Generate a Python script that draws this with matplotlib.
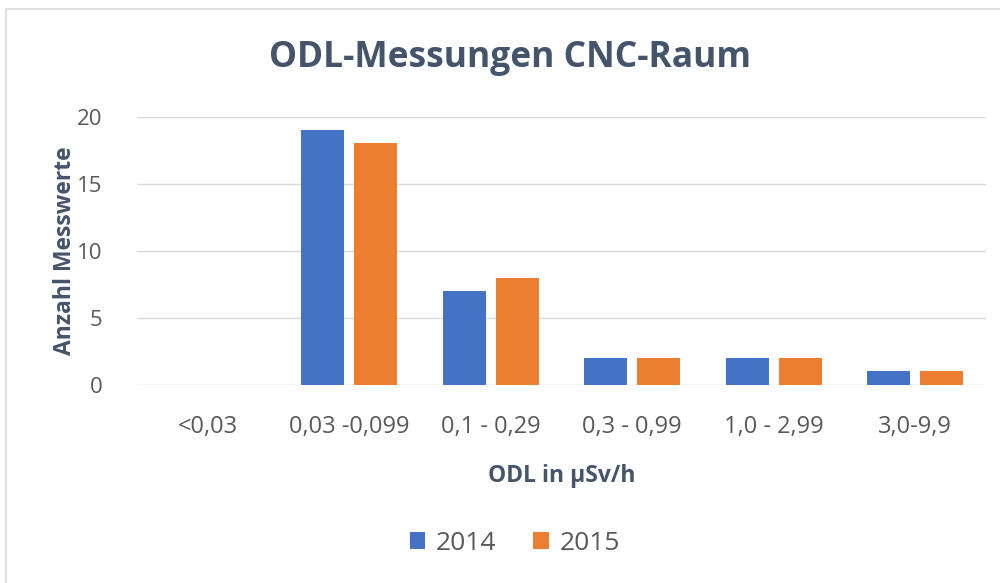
import matplotlib
matplotlib.use("Agg")
import matplotlib.pyplot as plt
import numpy as np
from matplotlib.patches import Rectangle

categories = ["<0,03", "0,03 -0,099", "0,1 - 0,29", "0,3 - 0,99", "1,0 - 2,99", "3,0-9,9"]
series_names = ["2014", "2015"]
values_2014 = [0, 19, 7, 2, 2, 1]
values_2015 = [0, 18, 8, 2, 2, 1]
yticks = [0, 5, 10, 15, 20]

plt.rcParams['font.family'] = ['Open Sans', 'DejaVu Sans']

fig = plt.figure(figsize=(10, 5.83), dpi=100)
fig.patch.set_facecolor("white")
# outer chart frame
fig.patches.append(Rectangle((0.006, -0.01), 1.0, 0.995, transform=fig.transFigure,
                             fill=False, edgecolor="#d9d9d9", linewidth=1.2))

ax = fig.add_axes([0.137, 0.34, 0.849, 0.46])
x = np.arange(len(categories))
w = 0.305
gap = 0.07
colors = ["#4472C4", "#ED7D31"]
ax.bar(x - (w + gap) / 2, values_2014, width=w, color=colors[0], label=series_names[0], zorder=3)
ax.bar(x + (w + gap) / 2, values_2015, width=w, color=colors[1], label=series_names[1], zorder=3)

ax.set_xlim(-0.5, len(categories) - 0.5)
ax.set_ylim(0, 20)
ax.set_yticks(yticks)
ax.grid(axis="y", color="#d9d9d9", linewidth=1, zorder=0)
for s in ax.spines.values():
    s.set_visible(False)
ax.tick_params(length=0)
ax.set_xticks(x)
ax.set_xticklabels(categories, fontsize=17, color="#595959")
ax.tick_params(axis="x", pad=22)
ax.tick_params(axis="y", pad=25)
for t in ax.get_yticklabels():
    t.set_fontsize(16)
    t.set_color("#595959")

ax.set_xlabel("ODL in µSv/h", fontsize=16.5, fontweight="bold", color="#44546A", labelpad=18)
ax.set_ylabel("Anzahl Messwerte", fontsize=16.5, fontweight="bold", color="#44546A", labelpad=0)

fig.text(0.51, 0.9, "ODL-Messungen CNC-Raum", ha="center", va="center",
         fontsize=25.5, fontweight="bold", color="#44546A")

leg = fig.legend(loc="center", bbox_to_anchor=(0.515, 0.068), ncol=2, frameon=False,
                 fontsize=19, handlelength=0.6, handleheight=0.6, columnspacing=1.4,
                 handletextpad=0.4)
for t in leg.get_texts():
    t.set_color("#595959")

fig.savefig("out.png", dpi=100)
